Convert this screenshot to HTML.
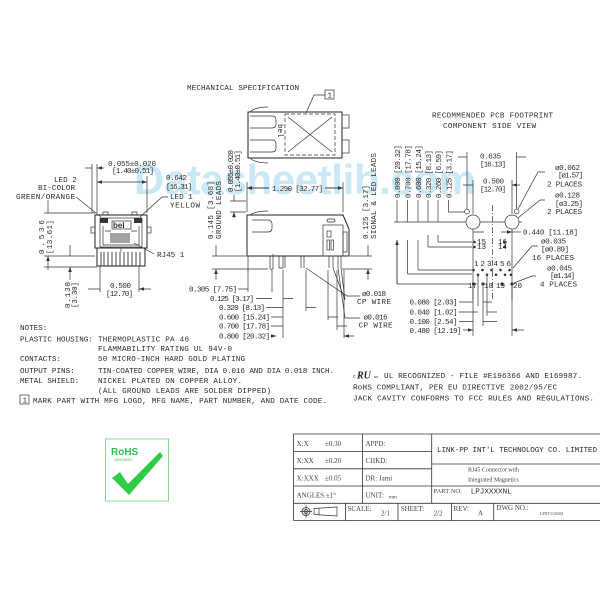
<!DOCTYPE html>
<html><head><meta charset="utf-8"><style>
html,body{margin:0;padding:0;background:#fff;}
svg{display:block;}
.t{font-family:"Liberation Mono",monospace;font-size:7.6px;fill:#2a2a2a;}
.s{font-family:"Liberation Serif",serif;font-size:7px;fill:#444;}
.l{stroke:#333;stroke-width:0.7;fill:none;}
.th{stroke:#222;stroke-width:1;fill:none;}
</style></head><body>
<svg width="600" height="600" viewBox="0 0 600 600" xmlns="http://www.w3.org/2000/svg">
<defs>
<marker id="a" markerWidth="6" markerHeight="6" refX="5" refY="3" orient="auto-start-reverse" markerUnits="userSpaceOnUse"><path d="M0,1.2 L5,3 L0,4.8z" fill="#333"/></marker>
</defs>
<rect width="600" height="600" fill="#fff"/>

<!-- watermark -->
<text x="134" y="194" font-family="Liberation Sans,sans-serif" font-weight="bold" font-size="42" fill="#9fd6f0" opacity="0.55" textLength="342">Datasheetlib.com</text>

<text class="t" x="187" y="90" textLength="112">MECHANICAL SPECIFICATION</text>

<!-- TOP VIEW -->
<rect class="th" x="248" y="112" width="94" height="46"/>
<path class="l" d="M250,112 Q255,107 268,107 M250,158 Q255,163 268,163"/>
<path class="l" d="M250,116 H272 Q276,116 276,120 V124 Q276,128 272,128 H250 M250,140 H272 Q276,140 276,144 V148 Q276,152 272,152 H250"/>
<rect class="l" x="342" y="115" width="7" height="13"/><rect class="l" x="342" y="140" width="7" height="13"/>
<rect class="l" x="285" y="114" width="50" height="41" stroke-dasharray="4,2"/>
<path class="l" d="M288,117 L332,152 M332,117 L288,152"/>
<text class="t" x="0" y="0" font-size="5" transform="translate(278,124) rotate(90)">bel</text>
<path class="l" d="M306,113 L314,95 H325"/>
<rect class="l" x="325" y="90" width="9" height="9"/><text class="t" x="327.5" y="97.5" font-size="7">1</text>

<!-- SIDE VIEW -->
<path class="th" d="M247,215 H343 L349,229 V256 H247 Z"/>
<path class="l" d="M250,215 Q256,211 268,211 M252,220 H268 Q272,220 272,224 V228 Q272,232 268,232 H252"/>
<rect class="l" x="323" y="225" width="20" height="31"/>
<rect class="l" x="327" y="219" width="8" height="3" rx="1.5"/>
<rect class="l" x="327" y="231" width="4" height="6"/>
<rect class="l" x="327" y="240" width="2.5" height="10"/><rect class="l" x="331" y="240" width="2.5" height="10"/>
<rect class="l" x="343" y="232" width="4" height="20"/>
<path class="l" d="M270,256 V268 M273,254 V269 M279,256 V268 H283 V256 M285,256 V268 M301,256 V268 M304,256 V268 M329,256 V268 M333,256 V268 M338,256 V268 M341,256 V268"/>
<path class="l" d="M270,268 Q271.5,271 273,268"/>
<!-- side dims -->
<path class="l" d="M247,182 V212 M343,182 V212"/>
<path class="l" d="M247,188 H269 M325,188 H343" marker-start="url(#a)"/>
<path class="l" marker-end="url(#a)" d="M269,188 H247"/><path class="l" marker-end="url(#a)" d="M325,188 H343"/>
<text class="t" x="272" y="191" textLength="51">1.290 [32.77]</text>
<text class="t" transform="translate(233,192) rotate(-90)" textLength="42">0.055±0.020</text>
<text class="t" transform="translate(240,192) rotate(-90)" textLength="42">[1.40±0.51]</text>
<path class="l" d="M230,201 H246 M230,212 H246 M234,195 V201 M234,218 V212" marker-end="url(#a)"/>
<text class="t" transform="translate(213,239) rotate(-90)" textLength="58">0.145 [3.68]</text>
<text class="t" transform="translate(221,239) rotate(-90)" textLength="58">GROUND LEADS</text>
<path class="l" d="M212,256 H246 M212,269 H268 M216,245 V256 M216,280 V269" marker-end="url(#a)"/>
<text class="t" transform="translate(368,239) rotate(-90)" textLength="54">0.125 [3.17]</text>
<text class="t" transform="translate(376,239) rotate(-90)" textLength="86">SIGNAL &amp; LED LEADS</text>
<path class="l" d="M350,256 H372 M342,269 H372 M368,245 V256 M368,280 V269" marker-end="url(#a)"/>
<path class="l" d="M248,256 V292 M272,270 V292 M283,270 V338 M306,270 V311 M328,270 V320 M337,270 V330 M344,270 V338"/>
<text class="t" x="189" y="291.5" textLength="48">0.305 [7.75]</text>
<text class="t" x="210" y="301" textLength="44">0.125 [3.17]</text>
<text class="t" x="219" y="310" textLength="46">0.320 [8.13]</text>
<text class="t" x="219" y="319.5" textLength="51">0.600 [15.24]</text>
<text class="t" x="219" y="328.5" textLength="51">0.700 [17.78]</text>
<text class="t" x="219" y="338.5" textLength="51">0.800 [20.32]</text>
<path class="l" d="M238,289 H248 M256,298.5 H272 M266,307.5 H283 M271,317 H283 M271,326 H283 M271,336 H276" marker-end="url(#a)"/>
<path class="l" d="M293,298.5 H283 M316,307.5 H306 M338,317 H328 M347,326 H337 M354,336 H344" marker-end="url(#a)"/>
<path class="l" d="M306,268 L347,296 H360 M333,268 L345,300 M338,268 L345,318 H360 M341,268 L345,300"/>
<text class="t" x="362" y="296" textLength="24">ø0.018</text>
<text class="t" x="357" y="304" textLength="34">CP WIRE</text>
<text class="t" x="363.5" y="319.5" textLength="24">ø0.016</text>
<text class="t" x="358.6" y="327.5" textLength="34">CP WIRE</text>

<!-- FRONT VIEW -->
<rect class="l" x="103" y="212" width="5" height="3"/><rect class="l" x="132" y="212" width="5" height="3"/>
<rect class="th" x="95" y="215" width="52" height="33"/>
<rect class="l" x="91" y="227" width="4" height="6"/><rect class="l" x="147" y="227" width="4" height="6"/>
<rect class="l" x="100" y="218" width="42" height="29"/>
<rect fill="#333" x="100" y="218" width="8" height="5"/><rect fill="#333" x="134" y="218" width="8" height="5"/>
<rect class="l" x="112" y="221" width="19" height="8"/>
<text x="113" y="228" font-family="Liberation Sans,sans-serif" font-weight="bold" font-size="8" fill="#333">bel</text>
<path class="l" d="M103,226 V245 H139 V226 M105,231 H111 M131,231 H137"/>
<path d="M111,233 V243 M113,233 V243 M115,233 V243 M117,233 V243 M119,233 V243 M121,233 V243 M123,233 V243 M125,233 V243 M127,233 V243 M129,233 V243" stroke="#333" stroke-width="0.9"/>
<rect class="th" x="97" y="248" width="48" height="18"/>
<path d="M101,252 V266 M104,252 V266 M108,252 V266 M112,252 V266 M116,252 V266 M120,252 V266 M124,252 V266 M128,252 V266 M132,252 V266 M136,252 V266 M140,252 V266" stroke="#333" stroke-width="0.9"/>
<path class="l" d="M121,248 V252"/>
<!-- front dims -->
<text class="t" x="108" y="166" textLength="48">0.055±0.020</text>
<text class="t" x="112" y="173" textLength="42">[1.40±0.51]</text>
<path class="l" d="M92,164 V213 M97,164 V213 M147,176 V213"/>
<path class="l" d="M85,168 H92 M104,168 H97" marker-end="url(#a)"/>
<path class="l" d="M97,182 H147" marker-start="url(#a)" marker-end="url(#a)"/>
<text class="t" x="166" y="180" textLength="21">0.642</text>
<text class="t" x="166" y="189" textLength="26">[16.31]</text>
<text class="t" x="54" y="182">LED 2</text>
<text class="t" x="38" y="190" textLength="37">BI-COLOR</text>
<text class="t" x="16" y="199" textLength="59">GREEN/ORANGE</text>
<path class="l" d="M76,197 L101,217"/>
<text class="t" x="170" y="199">LED 1</text>
<text class="t" x="170" y="207.5" textLength="30">YELLOW</text>
<path class="l" d="M168,197 H162 L140,217"/>
<text class="t" x="157" y="257">RJ45 1</text>
<path class="l" d="M154,254 L134,243"/>
<path class="l" d="M44,213 H95 M44,256 H95 M44,267 H97"/>
<path class="l" d="M48,200 V213 M48,270 V256" marker-end="url(#a)"/>
<text class="t" transform="translate(44,254) rotate(-90)" textLength="34">0.536</text>
<text class="t" transform="translate(52,254) rotate(-90)" textLength="34">[13.61]</text>
<path class="l" d="M70,245 V256 M70,280 V267" marker-end="url(#a)"/>
<text class="t" transform="translate(70,308) rotate(-90)" textLength="26">0.130</text>
<text class="t" transform="translate(77,308) rotate(-90)" textLength="26">[3.30]</text>
<path class="l" d="M100,266 V292 M139,266 V292"/>
<path class="l" d="M88,289 H100 M151,289 H139" marker-end="url(#a)"/>
<text class="t" x="110" y="288" textLength="21">0.500</text>
<text class="t" x="106" y="296" textLength="27">[12.70]</text>

<!-- FOOTPRINT -->
<text class="t" x="432" y="117.5" textLength="121">RECOMMENDED PCB FOOTPRINT</text>
<text class="t" x="443" y="128" textLength="93">COMPONENT SIDE VIEW</text>
<g class="t">
<text transform="translate(400,198) rotate(-90)" textLength="53">0.800 [20.32]</text>
<text transform="translate(410.6,198) rotate(-90)" textLength="53">0.700 [17.78]</text>
<text transform="translate(421,198) rotate(-90)" textLength="53">0.600 [15.24]</text>
<text transform="translate(431,198) rotate(-90)" textLength="48">0.320 [8.13]</text>
<text transform="translate(441,198) rotate(-90)" textLength="48">0.260 [6.59]</text>
<text transform="translate(451.5,198) rotate(-90)" textLength="48">0.125 [3.17]</text>
</g>
<path class="l" d="M394,222 H466 M480,222 H505 M519,222 H522"/>
<circle class="l" cx="473" cy="222" r="7"/><circle class="l" cx="512" cy="222" r="7"/>
<circle class="l" cx="467" cy="211.6" r="2.4"/><circle class="l" cx="516.6" cy="211.6" r="2.4"/>
<path class="l" d="M492.5,205 V300" stroke-dasharray="6,2,1,2"/>
<path class="l" d="M397,200 V222 M397,240 V284" />
<path class="l" d="M397,240 V284 M407.6,240 V274 M418,240 V270 M428,235 V247 M438,235 V242" marker-start="url(#a)"/>
<path class="l" d="M448.5,200 V212 H464 M407.6,200 V222 M418,200 V222 M428,200 V222 M438,200 V222" />
<path class="l" d="M397,284 H470 M407.6,274 H472 M418,270 H472 M428,247 H472 M438,242 H472"/>
<path class="l" d="M467,152 V209 M516.6,152 V209 M473,180 V214 M512,180 V214"/>
<path class="l" d="M458,157 H467 M526,157 H516.6 M463,185 H473 M520,185 H512" marker-end="url(#a)"/>
<text class="t" x="480" y="158.5" textLength="21">0.635</text>
<text class="t" x="480" y="166.5" textLength="26">[16.13]</text>
<text class="t" x="483" y="183.5" textLength="21">0.500</text>
<text class="t" x="480" y="191.5" textLength="26">[12.70]</text>
<text class="t" x="555" y="170" textLength="25">ø0.062</text>
<text class="t" x="558" y="177.5" textLength="25">[ø1.57]</text>
<text class="t" x="547" y="186.5" textLength="35">2 PLACES</text>
<path class="l" d="M545,172 H538 L518,209"/>
<text class="t" x="555" y="197.5" textLength="25">ø0.128</text>
<text class="t" x="555" y="206" textLength="28">[ø3.25]</text>
<text class="t" x="547" y="214" textLength="35">2 PLACES</text>
<path class="l" d="M545,200 H540 L518,218"/>
<path class="l" d="M473,229 V300 M512,229 V300"/>
<path class="l" d="M484,232 H473 M501,232 H512" marker-end="url(#a)"/>
<text class="t" x="523" y="234.5" textLength="55">0.440 [11.18]</text>
<path class="l" d="M512,232 H521"/>
<g fill="#333">
<circle cx="474.5" cy="242" r="1.3"/><circle cx="474.5" cy="247" r="1.3"/>
<circle cx="504.4" cy="242" r="1.3"/><circle cx="504.4" cy="247" r="1.3"/>
<circle cx="473.5" cy="270" r="1.3"/><circle cx="478" cy="274.8" r="1.3"/><circle cx="482.5" cy="270" r="1.3"/><circle cx="487" cy="274.8" r="1.3"/><circle cx="491.5" cy="270" r="1.3"/>
<circle cx="496" cy="274.8" r="1.3"/><circle cx="500.5" cy="270" r="1.3"/><circle cx="505" cy="274.8" r="1.3"/><circle cx="509.5" cy="270" r="1.3"/><circle cx="511" cy="274.8" r="1.3"/>
<circle cx="473.5" cy="284" r="1.6"/><circle cx="483" cy="284" r="1.6"/><circle cx="502" cy="284" r="1.6"/><circle cx="512" cy="284" r="1.6"/>
</g>
<g class="t" font-size="4.5">
<text x="477" y="244">15</text><text x="477" y="249">13</text><text x="498" y="244">16</text><text x="498" y="249">14</text>
<text x="468" y="288">17</text><text x="484" y="288">18</text><text x="496" y="288">19</text><text x="513" y="288">20</text>
</g>
<text class="t" x="474" y="266" font-size="6" textLength="37">1 2 3 4 5 6</text>
<text class="t" x="541" y="243.5" textLength="25">ø0.035</text>
<text class="t" x="541" y="251.5" textLength="28">[ø0.89]</text>
<text class="t" x="532" y="260" textLength="42">16 PLACES</text>
<path class="l" d="M538,246 H532 L513,268"/>
<text class="t" x="547" y="270.5" textLength="25">ø0.045</text>
<text class="t" x="550" y="278" textLength="25">[ø1.14]</text>
<text class="t" x="540" y="286.5" textLength="37">4 PLACES</text>
<path class="l" d="M536,276 H532 L514,283"/>
<path class="l" d="M478,276 V306 M487,276 V316 M483,286 V326 M512,286 V336 M473,286 V336"/>
<text class="t" x="409.5" y="304.5" textLength="48">0.080 [2.03]</text>
<text class="t" x="409.5" y="314.5" textLength="48">0.040 [1.02]</text>
<text class="t" x="409.5" y="324" textLength="48">0.100 [2.54]</text>
<text class="t" x="409.5" y="333" textLength="52">0.480 [12.19]</text>
<path class="l" d="M459,302 H473 M459,312 H478 M459,321.5 H473 M463,330 H473" marker-end="url(#a)"/>
<path class="l" d="M492,302 H483 M497,312 H487 M497,321.5 H483 M524,330 H512" marker-end="url(#a)"/>

<!-- NOTES -->
<g class="t">
<text x="20" y="330">NOTES:</text>
<text x="20" y="341.5">PLASTIC HOUSING:</text><text x="98" y="341.5" textLength="91">THERMOPLASTIC PA 46</text>
<text x="98" y="351" textLength="134">FLAMMABILITY RATING UL 94V-0</text>
<text x="20" y="361">CONTACTS:</text><text x="98" y="361" textLength="147">50 MICRO-INCH HARD GOLD PLATING</text>
<text x="20" y="373">OUTPUT PINS:</text><text x="98" y="373" textLength="236">TIN-COATED COPPER WIRE, DIA 0.016 AND DIA 0.018 INCH.</text>
<text x="20" y="383">METAL SHIELD:</text><text x="98" y="383" textLength="144">NICKEL PLATED ON COPPER ALLOY.</text>
<text x="98" y="393" textLength="173">(ALL GROUND LEADS ARE SOLDER DIPPED)</text>
<text x="33" y="403" textLength="294">MARK PART WITH MFG LOGO, MFG NAME, PART NUMBER, AND DATE CODE.</text>
</g>
<rect class="l" x="20" y="395" width="9" height="9"/><text class="t" x="22.5" y="402.5" font-size="7">1</text>

<!-- UL -->
<text x="353" y="378" font-family="Liberation Sans,sans-serif" font-size="5" fill="#333">c</text>
<text x="357" y="378.5" font-family="Liberation Serif,serif" font-weight="bold" font-style="italic" font-size="10" fill="#222">RU</text>
<text x="374" y="378" font-family="Liberation Sans,sans-serif" font-size="4" fill="#333">us</text>
<text class="t" x="384" y="378" textLength="198">UL RECOGNIZED - FILE #E196366 AND E169987.</text>
<text class="t" x="353" y="389.5" textLength="204">RoHS COMPLIANT, PER EU DIRECTIVE 2002/95/EC</text>
<text class="t" x="353" y="400.5" textLength="241">JACK CAVITY CONFORMS TO FCC RULES AND REGULATIONS.</text>

<!-- RoHS logo -->
<rect x="105.5" y="439" width="63" height="62" fill="#fff" stroke="#7fdc8f" stroke-width="1"/>
<text x="111" y="455" font-family="Liberation Sans,sans-serif" font-weight="bold" font-size="10" fill="#33c04a">RoHS</text>
<text x="114" y="461" font-family="Liberation Sans,sans-serif" font-size="3.5" fill="#33c04a">2002/95/EC</text>
<path d="M112,478 L120,472 L128,484 L160,452 L163,456 L129,495 Z" fill="#2ecc47"/>

<!-- TITLE BLOCK -->
<g stroke="#333" stroke-width="0.8" fill="none">
<path d="M293.5,434 H600 M293.5,520.5 H600 M293.5,434 V520.5"/>
<path d="M293.5,451.6 H431.7 M293.5,468.8 H431.7 M293.5,486 H431.7 M293.5,503.3 H600"/>
<path d="M431.7,464 H600 M431.7,486 H600"/>
<path d="M362.4,434 V503.3 M431.7,434 V503.3"/>
<path d="M345.6,503.3 V520.5 M398,503.3 V520.5 M451.6,503.3 V520.5 M493.7,503.3 V520.5"/>
</g>
<g class="s">
<text x="296.6" y="446">X:X</text><text x="325" y="446">±0.30</text><text x="365.5" y="446">APPD:</text>
<text x="296.6" y="463">X:XX</text><text x="325" y="463">±0.20</text><text x="365.5" y="463">CHKD:</text>
<text x="296.6" y="480.5">X:XXX</text><text x="325" y="480.5">±0.05</text><text x="365.5" y="480.5">DR:  Jami</text>
<text x="296.6" y="497.5">ANGLES  ±1°</text><text x="365.5" y="497.5">UNIT:</text><text x="389" y="498.5" font-size="5">mm</text>
<text x="468" y="471.5" font-size="6">RJ45 Connector with</text>
<text x="468" y="481.5" font-size="6">Integrated Magnetics</text>
<text x="433.6" y="493" font-size="6.5">PART NO.</text>
<text x="347.5" y="511">SCALE:</text><text x="381" y="515.5">2/1</text>
<text x="400.7" y="511">SHEET:</text><text x="433.6" y="515.5">2/2</text>
<text x="453.5" y="511">REV:</text><text x="478" y="515.5">A</text>
<text x="496.4" y="510">DWG NO.:</text><text x="539.6" y="515" font-size="4.5">LP0T112602</text>
</g>
<text class="t" x="437" y="452" textLength="160">LINK-PP INT'L TECHNOLOGY CO. LIMITED</text>
<text class="t" x="470.7" y="493.5" font-size="6.5">LPJXXXXNL</text>
<circle cx="306" cy="511.5" r="4" stroke="#333" stroke-width="0.8" fill="none"/><circle cx="306" cy="511.5" r="2" stroke="#333" stroke-width="0.8" fill="none"/>
<path d="M300,511.5 H312 M306,505.5 V517.5" stroke="#333" stroke-width="0.7"/>
<path d="M314,508.5 L337,507 V516 L314,514.5 Z M319,508 V515" stroke="#333" stroke-width="0.7" fill="none"/>
</svg>
</body></html>
